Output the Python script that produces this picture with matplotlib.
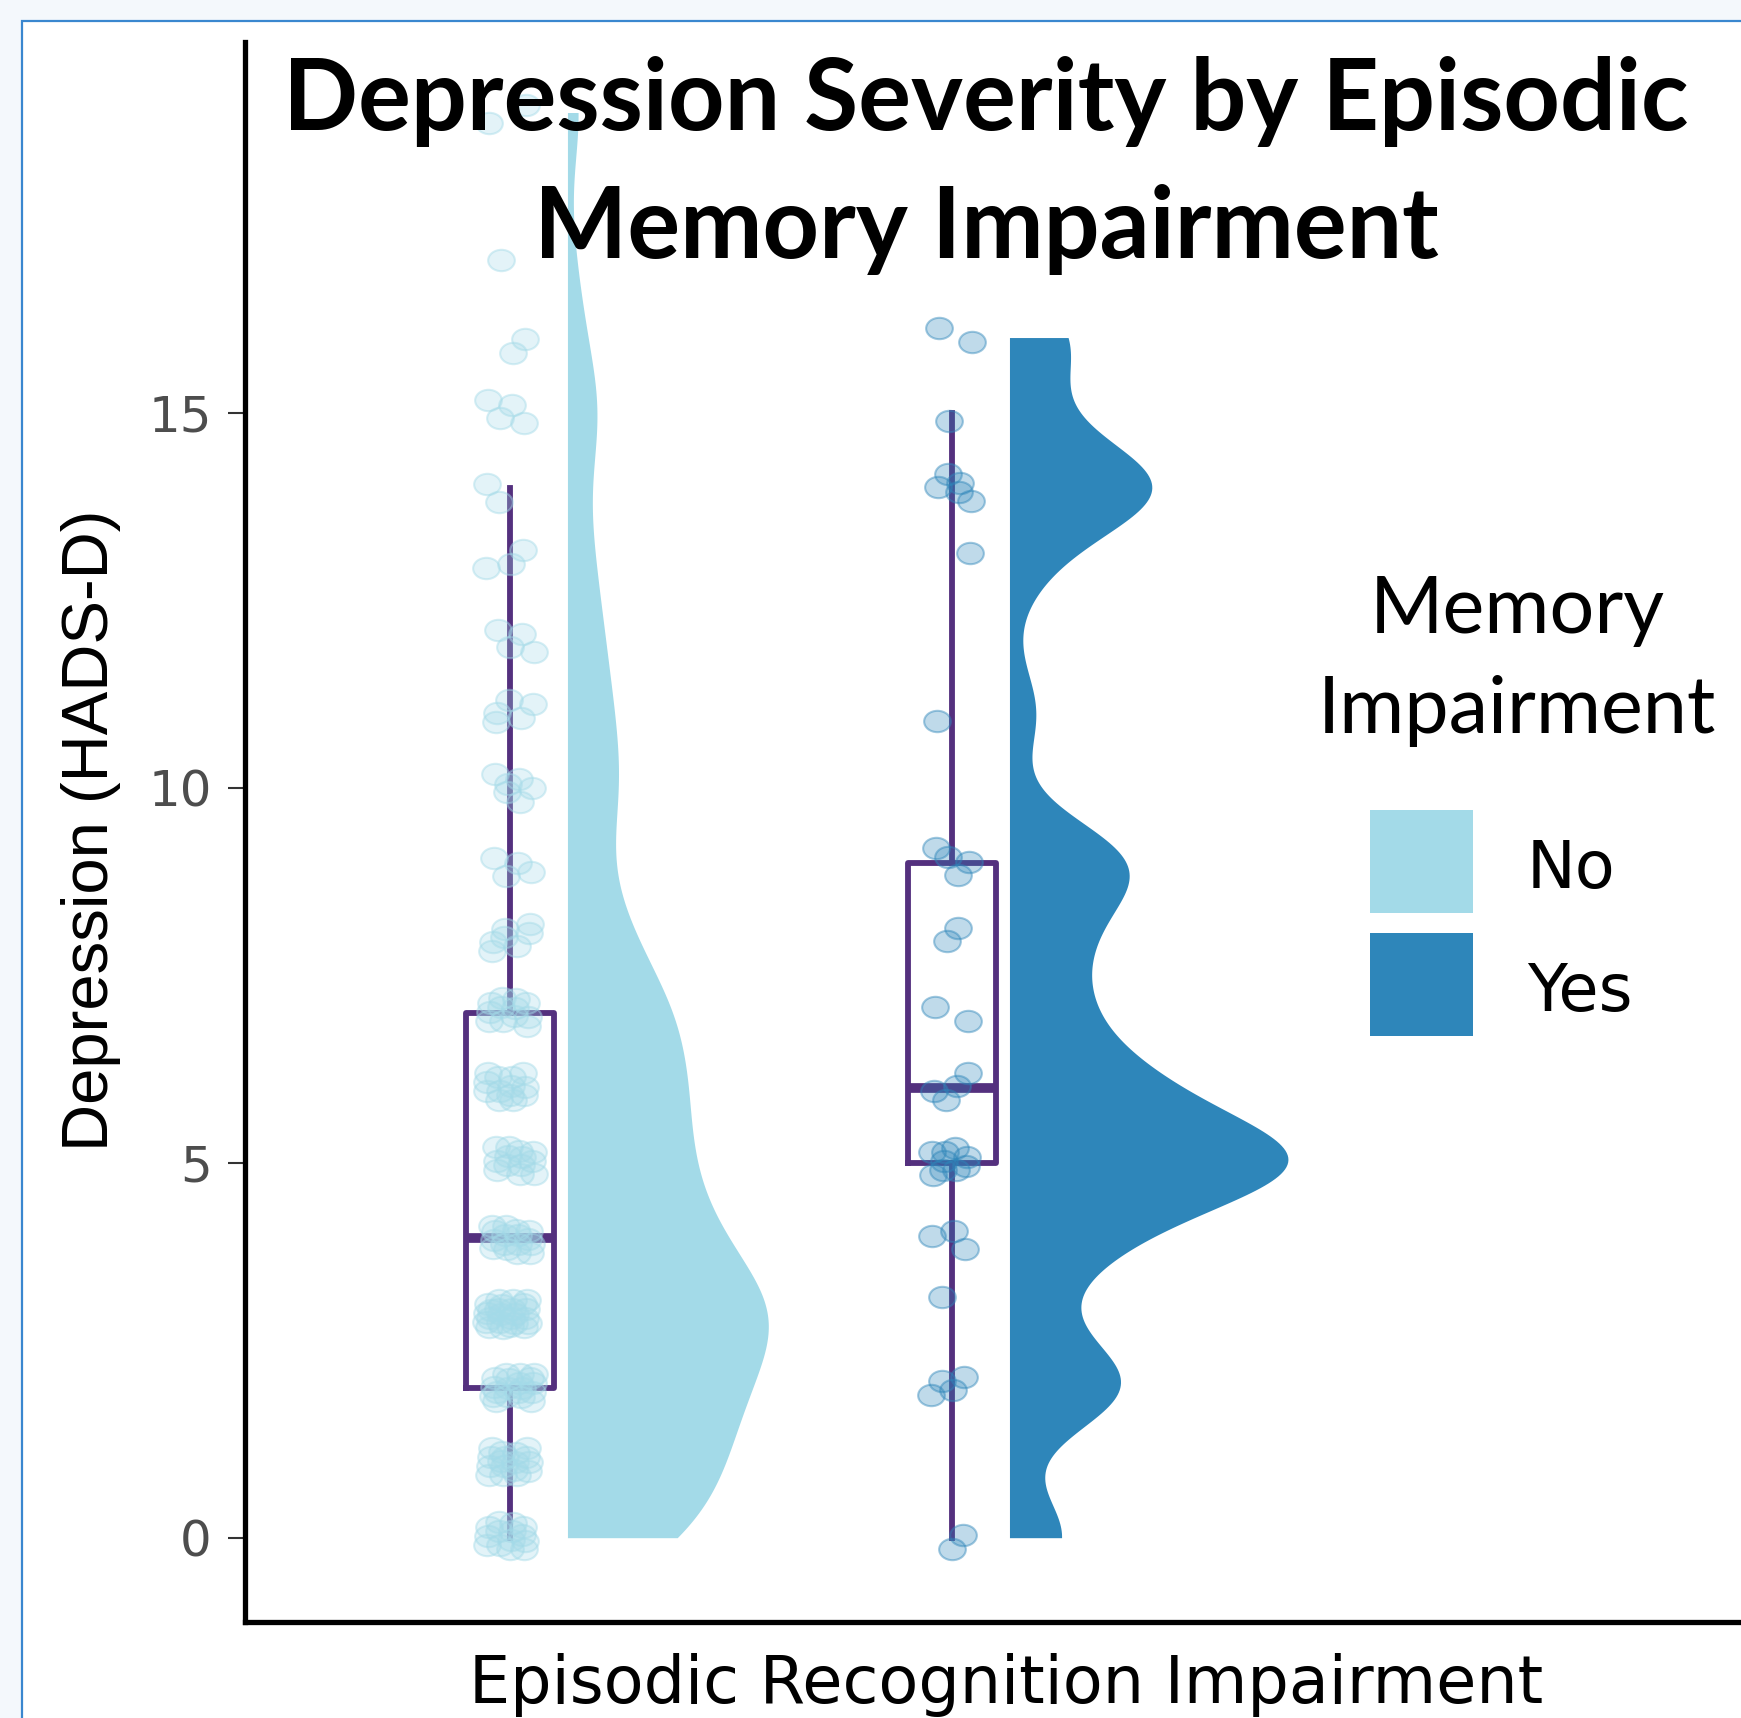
import numpy as np
import matplotlib
matplotlib.use("Agg")
import matplotlib.pyplot as plt
import matplotlib.patches as patches
from matplotlib.colors import to_rgba
from matplotlib.path import Path
from matplotlib.transforms import Affine2D

# HADS-D depression score and number of participants at each score
scores = np.arange(20)
no_counts = [14, 17, 19, 24, 16, 13, 13, 12, 7, 4, 6, 5, 4, 3, 2, 4, 2, 1, 0, 2]
yes_counts = [2, 0, 4, 1, 3, 9, 4, 2, 2, 4, 0, 1, 0, 1, 5, 1, 2, 0, 0, 0]

groups = ['No', 'Yes']
group_colors = ['#a3dae8', '#2e86ba']
group_bw = [0.72, 0.6]
box_color = '#54307e'
yticks = [0, 5, 10, 15]

W, H = 1741, 1718


def fx(px):
    return px / W


def fy(py):
    return 1 - py / H


def kde(vals, grid, bw):
    z = (grid[:, None] - vals[None, :]) / bw
    return np.exp(-0.5 * z ** 2).sum(1) / (len(vals) * bw * np.sqrt(2 * np.pi))


fig = plt.figure(figsize=(W / 100, H / 100), dpi=100, facecolor='#f4f8fc')

# white panel with the blue frame line
frame = patches.Rectangle((fx(22), -0.1), 1.2, fy(21) + 0.1, transform=fig.transFigure,
                          facecolor='white', edgecolor='#3a87cf', linewidth=1.6, zorder=-1)
fig.patches.append(frame)

ax = fig.add_axes([fx(245), fy(1622), 1 - fx(245), fy(42) - fy(1622)])
ax.patch.set_alpha(0)

data = [np.repeat(scores, no_counts).astype(float), np.repeat(scores, yes_counts).astype(float)]
positions = [1, 2]

# half violins, same area for both groups
grids, dens = [], []
for vals, bw in zip(data, group_bw):
    g = np.linspace(vals.min(), vals.max(), 512)
    grids.append(g)
    dens.append(kde(vals, g, bw))
scale = 0.63 / max(d.max() for d in dens)
for pos, g, d, c in zip(positions, grids, dens, group_colors):
    ax.fill_betweenx(g, pos + 0.13, pos + 0.13 + d * scale, color=c, lw=0, zorder=1)

# boxes
ax.boxplot(data, positions=positions, widths=0.2, showfliers=False, showcaps=False,
           boxprops=dict(color=box_color, lw=4.2),
           whiskerprops=dict(color=box_color, lw=4.2),
           medianprops=dict(color=box_color, lw=7), zorder=2)

# jittered points (deterministic spread)
ell = Path.unit_circle().transformed(Affine2D().scale(1, 0.8))
for pos, vals, c, jw in zip(positions, data, group_colors, [0.11, 0.1]):
    i = np.arange(1, len(vals) + 1)
    dx = ((i * 0.7548776662) % 1 - 0.5) * jw
    dy = ((i * 0.5698402910) % 1 - 0.5) * 0.42
    ax.scatter(pos + dx, vals + dy, s=370, marker=ell, facecolor=to_rgba(c, 0.3),
               edgecolor=to_rgba(c, 0.45), linewidth=1.5, zorder=3)

ax.set_xlim(0.4005, 3.785)
ax.set_ylim(-1.124, 19.94)
ax.set_xticks([])
ax.set_yticks(yticks)
ax.set_yticklabels([str(t) for t in yticks])
ax.tick_params(axis='y', length=12, width=1.5, color='#333333', labelsize=36,
               labelcolor='#4d4d4d', pad=12)
for s in ['top', 'right']:
    ax.spines[s].set_visible(False)
for s in ['left', 'bottom']:
    ax.spines[s].set_linewidth(3.8)
    ax.spines[s].set_color('black')

# titles and axis labels
fig.text(fx(986), fy(130), 'Depression Severity by Episodic', ha='center', va='baseline',
         fontsize=71, fontweight='bold', family='Lato')
fig.text(fx(986), fy(258), 'Memory Impairment', ha='center', va='baseline',
         fontsize=71, fontweight='bold', family='Lato')
fig.text(fx(1006), fy(1703), 'Episodic Recognition Impairment', ha='center', va='baseline',
         fontsize=47, family='DejaVu Sans')
fig.text(fx(91), fy(830), 'Depression (HADS-D)', ha='center', va='center', rotation=90,
         fontsize=47, family='Liberation Sans')

# legend
fig.text(fx(1517), fy(633), 'Memory', ha='center', va='baseline', fontsize=57, family='Lato')
fig.text(fx(1517), fy(733), 'Impairment', ha='center', va='baseline', fontsize=57, family='Lato')
for k, (lab, c) in enumerate(zip(groups, group_colors)):
    top = 810 + k * 123
    fig.patches.append(patches.Rectangle((fx(1370), fy(top + 103)), 103 / W, 103 / H,
                                         transform=fig.transFigure, facecolor=c, lw=0, zorder=2))
    fig.text(fx(1527), fy(top + 78), lab, ha='left', va='baseline', fontsize=47, family='DejaVu Sans')

fig.savefig('out.png', dpi=100, facecolor=fig.get_facecolor())
